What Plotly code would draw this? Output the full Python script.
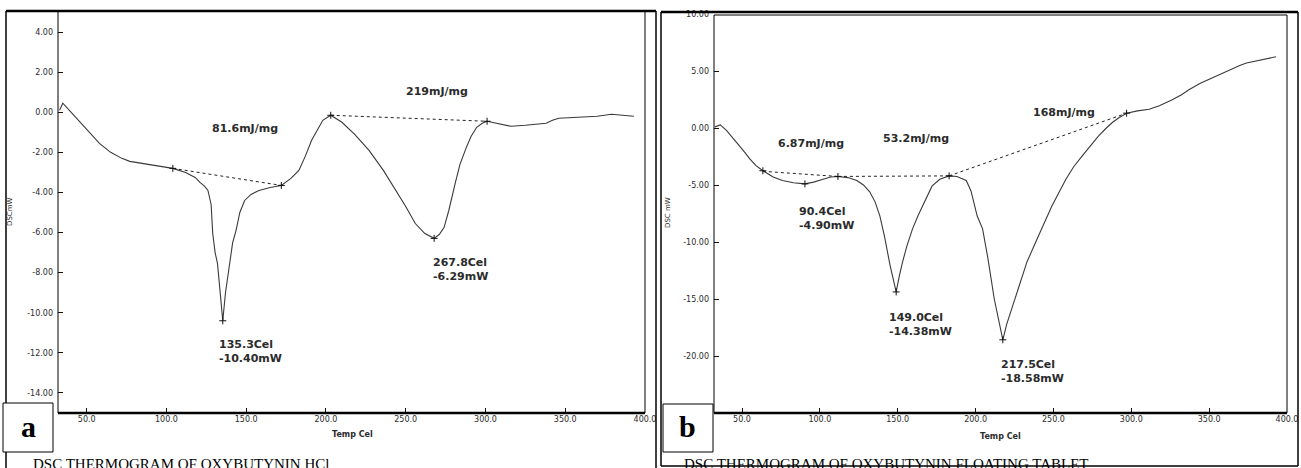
import plotly.graph_objects as go

W, H = 1301, 468

# ---------------- data: panel a (Oxybutynin HCl) ----------------
temp_a = [33, 35, 40, 47, 52, 58, 65, 72, 77, 85, 95, 104, 112, 118, 121, 124, 126, 128,
          129, 130.5, 132, 133.5, 135.3, 137, 139.5, 141.5, 143.6, 146, 149, 153, 158, 165,
          172, 178, 183, 187, 191, 195, 198, 203, 210, 218, 227, 236, 244, 250, 256, 262,
          267.8, 271, 274, 277, 281, 284, 288, 291, 294.5, 298, 301, 308, 316, 325, 333,
          338, 342, 346, 358, 370, 379, 385, 393]
dsc_a = [0.1, 0.45, 0.02, -0.6, -1.05, -1.55, -2.0, -2.3, -2.45, -2.55, -2.68, -2.8, -3.0,
         -3.25, -3.5, -3.7, -3.9, -4.6, -6.05, -7.0, -7.55, -9.0, -10.4, -9.0, -7.55, -6.5,
         -5.9, -5.0, -4.4, -4.1, -3.9, -3.75, -3.65, -3.3, -2.9, -2.2, -1.4, -0.8, -0.4,
         -0.15, -0.5, -1.1, -1.9, -2.9, -3.9, -4.7, -5.55, -6.05, -6.29, -6.1, -5.75, -4.9,
         -3.55, -2.6, -1.75, -1.2, -0.75, -0.55, -0.45, -0.55, -0.7, -0.65, -0.6, -0.55,
         -0.4, -0.3, -0.25, -0.2, -0.1, -0.15, -0.2]
base_a_t = [[104, 172], [203, 301]]
base_a_v = [[-2.8, -3.65], [-0.15, -0.45]]
mark_a_t = [104, 172, 203, 301, 135.3, 267.8]
mark_a_v = [-2.8, -3.65, -0.15, -0.45, -10.4, -6.29]
enth_a = ["81.6mJ/mg", "219mJ/mg"]
enth_a_pos = [(149.5, -0.8), (269.4, 1.05)]
peak_a = ["135.3Cel<br>-10.40mW", "267.8Cel<br>-6.29mW"]
peak_a_pos = [(131.9, -11.95), (265.7, -7.85)]

# ---------------- data: panel b (floating tablet) ----------------
temp_b = [32.6, 36, 40, 46.7, 51, 55, 59, 63.4, 70, 76, 83, 90.4, 96, 102, 107, 111.6, 118,
          123.7, 128, 132, 135.5, 138.5, 141.5, 145, 149, 151, 153, 156, 159.5, 163, 166,
          169, 172, 177, 183, 188, 194, 197, 201, 204.5, 208, 212, 217.5, 220, 223.7, 228,
          233, 238, 242, 249, 258, 263, 268.5, 274, 279, 284, 288, 292, 297, 304, 311.5,
          318, 326, 332, 337, 344, 352, 358, 365, 370, 374, 383, 393]
dsc_b = [0.1, 0.27, -0.2, -1.25, -2.0, -2.7, -3.3, -3.75, -4.3, -4.6, -4.8, -4.9, -4.75,
         -4.5, -4.3, -4.25, -4.35, -4.6, -5.0, -5.6, -6.5, -7.7, -9.5, -12.0, -14.38, -13.0,
         -11.8, -10.3, -8.85, -7.7, -6.8, -5.9, -5.1, -4.5, -4.2, -4.25, -4.6, -5.5, -7.7,
         -8.85, -11.5, -15.0, -18.58, -17.2, -15.6, -13.7, -11.75, -10.2, -9.0, -6.85, -4.5,
         -3.4, -2.45, -1.5, -0.7, 0.0, 0.5, 0.9, 1.3, 1.5, 1.65, 1.95, 2.45, 2.9, 3.35, 3.9,
         4.4, 4.8, 5.2, 5.5, 5.7, 5.95, 6.25]
base_b_t = [[63.4, 111.6], [111.6, 183], [183, 297]]
base_b_v = [[-3.8, -4.25], [-4.25, -4.2], [-4.2, 1.3]]
mark_b_t = [63.4, 111.6, 183, 297, 90.4, 149.0, 217.5]
mark_b_v = [-3.75, -4.25, -4.2, 1.3, -4.9, -14.38, -18.58]
enth_b = ["6.87mJ/mg", "53.2mJ/mg", "168mJ/mg"]
enth_b_pos = [(94.4, -1.4), (162, -0.96), (256.6, 1.4)]
peak_b = ["90.4Cel<br>-4.90mW", "149.0Cel<br>-14.38mW", "217.5Cel<br>-18.58mW"]
peak_b_pos = [(85.4, -7.9), (143.3, -17.2), (214.8, -21.4)]

x_ticks = [50, 100, 150, 200, 250, 300, 350, 400]
y_ticks_a = [4, 2, 0, -2, -4, -6, -8, -10, -12, -14]
y_ticks_b = [10, 5, 0, -5, -10, -15, -20]

captions = ["DSC THERMOGRAM OF OXYBUTYNIN HCl", "DSC THERMOGRAM OF OXYBUTYNIN FLOATING TABLET"]
letters = ["a", "b"]


def px(x):
    return x / W


def py(y):
    return 1 - y / H


CURVE = "#3a3a3a"
TXT = "#2b2b2b"

fig = go.Figure()

# panel a traces
fig.add_trace(go.Scatter(x=temp_a, y=dsc_a, mode="lines", line=dict(color=CURVE, width=1.1),
                         xaxis="x", yaxis="y", hoverinfo="skip"))
for t, v in zip(base_a_t, base_a_v):
    fig.add_trace(go.Scatter(x=t, y=v, mode="lines", line=dict(color="#222", width=1, dash="dot"),
                             xaxis="x", yaxis="y", hoverinfo="skip"))
fig.add_trace(go.Scatter(x=mark_a_t, y=mark_a_v, mode="markers",
                         marker=dict(symbol="cross-thin", size=5, line=dict(color="#111", width=1)),
                         xaxis="x", yaxis="y", hoverinfo="skip"))

# panel b traces
fig.add_trace(go.Scatter(x=temp_b, y=dsc_b, mode="lines", line=dict(color=CURVE, width=1.1),
                         xaxis="x2", yaxis="y2", hoverinfo="skip"))
for t, v in zip(base_b_t, base_b_v):
    fig.add_trace(go.Scatter(x=t, y=v, mode="lines", line=dict(color="#222", width=1, dash="dot"),
                             xaxis="x2", yaxis="y2", hoverinfo="skip"))
fig.add_trace(go.Scatter(x=mark_b_t, y=mark_b_v, mode="markers",
                         marker=dict(symbol="cross-thin", size=5, line=dict(color="#111", width=1)),
                         xaxis="x2", yaxis="y2", hoverinfo="skip"))

tickfont = dict(family="DejaVu Sans", size=8, color=TXT)
xcommon = dict(range=[32, 400], tickvals=x_ticks, ticktext=[f"{v:.1f}" for v in x_ticks],
               ticks="inside", ticklen=5, tickcolor="#111", tickwidth=1, showgrid=False,
               zeroline=False, showline=False, tickfont=tickfont, fixedrange=True)

fig.update_layout(
    width=W, height=H, margin=dict(l=0, r=0, t=0, b=0, autoexpand=False),
    paper_bgcolor="white", plot_bgcolor="white", showlegend=False,
    xaxis=dict(domain=[px(58), px(645)], anchor="y", **xcommon),
    yaxis=dict(domain=[py(413), py(12)], anchor="x", range=[-15, 5], tickvals=y_ticks_a,
               ticktext=[f"{v:.2f}" for v in y_ticks_a], ticks="inside", ticklen=5,
               tickcolor="#111", showgrid=False, zeroline=False, showline=False,
               tickfont=tickfont, ticklabelstandoff=4),
    xaxis2=dict(domain=[px(714), px(1287)], anchor="y2", **xcommon),
    yaxis2=dict(domain=[py(413), py(14)], anchor="x2", range=[-25, 10], tickvals=y_ticks_b,
                ticktext=[f"{v:.2f}" for v in y_ticks_b], ticks="inside", ticklen=5,
                tickcolor="#111", showgrid=False, zeroline=False, showline=False,
                tickfont=tickfont, ticklabelstandoff=4),
)

shapes = []


def line(x0, y0, x1, y1, w=1, c="black"):
    shapes.append(dict(type="line", xref="paper", yref="paper", x0=px(x0), y0=py(y0),
                       x1=px(x1), y1=py(y1), line=dict(color=c, width=w), layer="above"))


def rect(x0, y0, x1, y1, w=1, fill=None):
    shapes.append(dict(type="rect", xref="paper", yref="paper", x0=px(x0), y0=py(y0),
                       x1=px(x1), y1=py(y1), line=dict(color="black", width=w),
                       fillcolor=fill if fill else "rgba(0,0,0,0)", layer="above"))


# panel a frame
line(6, 11, 6, 470, 1.5)
line(6, 11, 656, 11, 2.5)
line(656, 11, 656, 470, 1.5)
line(58, 12, 58, 413, 1)
line(645, 12, 645, 413, 1)
line(58, 413, 645, 413, 2.5)
# panel b frame
line(661, 12, 661, 466, 1.5)
line(661, 12, 1298, 12, 2.5)
line(1298, 12, 1298, 466, 1.5)
line(661, 466, 1298, 466, 1.5)
line(714, 15, 1287, 15, 1)
line(714, 15, 714, 413, 1)
line(1287, 15, 1287, 413, 1)
line(714, 413, 1287, 413, 2.5)
# letter boxes
rect(3, 403, 53, 452, 1, "white")
rect(663, 404, 713, 452, 1, "white")
fig.update_layout(shapes=shapes)

ann = []
labfont = dict(family="DejaVu Sans", size=11, color=TXT)
for txt, (t, v) in zip(enth_a, enth_a_pos):
    ann.append(dict(x=t, y=v, xref="x", yref="y", text=f"<b>{txt}</b>", showarrow=False,
                    font=labfont, xanchor="center", yanchor="middle"))
for txt, (t, v) in zip(peak_a, peak_a_pos):
    ann.append(dict(x=t, y=v, xref="x", yref="y", text=f"<b>{txt}</b>", showarrow=False,
                    font=labfont, xanchor="left", yanchor="middle", align="left"))
for txt, (t, v) in zip(enth_b, enth_b_pos):
    ann.append(dict(x=t, y=v, xref="x2", yref="y2", text=f"<b>{txt}</b>", showarrow=False,
                    font=labfont, xanchor="center", yanchor="middle"))
for txt, (t, v) in zip(peak_b, peak_b_pos):
    ann.append(dict(x=t, y=v, xref="x2", yref="y2", text=f"<b>{txt}</b>", showarrow=False,
                    font=labfont, xanchor="left", yanchor="middle", align="left"))

small = dict(family="DejaVu Sans", size=8, color=TXT)
ctr = dict(xref="paper", yref="paper", showarrow=False, xanchor="center", yanchor="middle")
ann.append(dict(x=px(10), y=py(212), text="DSCmW", textangle=-90,
                font=dict(family="DejaVu Sans", size=7, color=TXT), **ctr))
ann.append(dict(x=px(668), y=py(213), text="DSC mW", textangle=-90,
                font=dict(family="DejaVu Sans", size=7, color=TXT), **ctr))
ann.append(dict(x=px(352), y=py(434), text="<b>Temp Cel</b>", font=small, **ctr))
ann.append(dict(x=px(1000), y=py(436), text="<b>Temp Cel</b>", font=small, **ctr))
# letters
ann.append(dict(x=px(28), y=py(426), text=f"<b>{letters[0]}</b>",
                font=dict(family="Liberation Serif", size=30, color="black"), **ctr))
ann.append(dict(x=px(688), y=py(426), text=f"<b>{letters[1]}</b>",
                font=dict(family="Liberation Serif", size=30, color="black"), **ctr))
# captions (cut off at bottom in the reference)
ann.append(dict(x=px(31), y=py(454), xref="paper", yref="paper", text=captions[0],
                showarrow=False, xanchor="left", yanchor="top",
                font=dict(family="Liberation Serif", size=15, color="black")))
ann.append(dict(x=px(682), y=py(454), xref="paper", yref="paper", text=captions[1],
                showarrow=False, xanchor="left", yanchor="top",
                font=dict(family="Liberation Serif", size=15, color="black")))
fig.update_layout(annotations=ann)

fig.write_html("out.html")
